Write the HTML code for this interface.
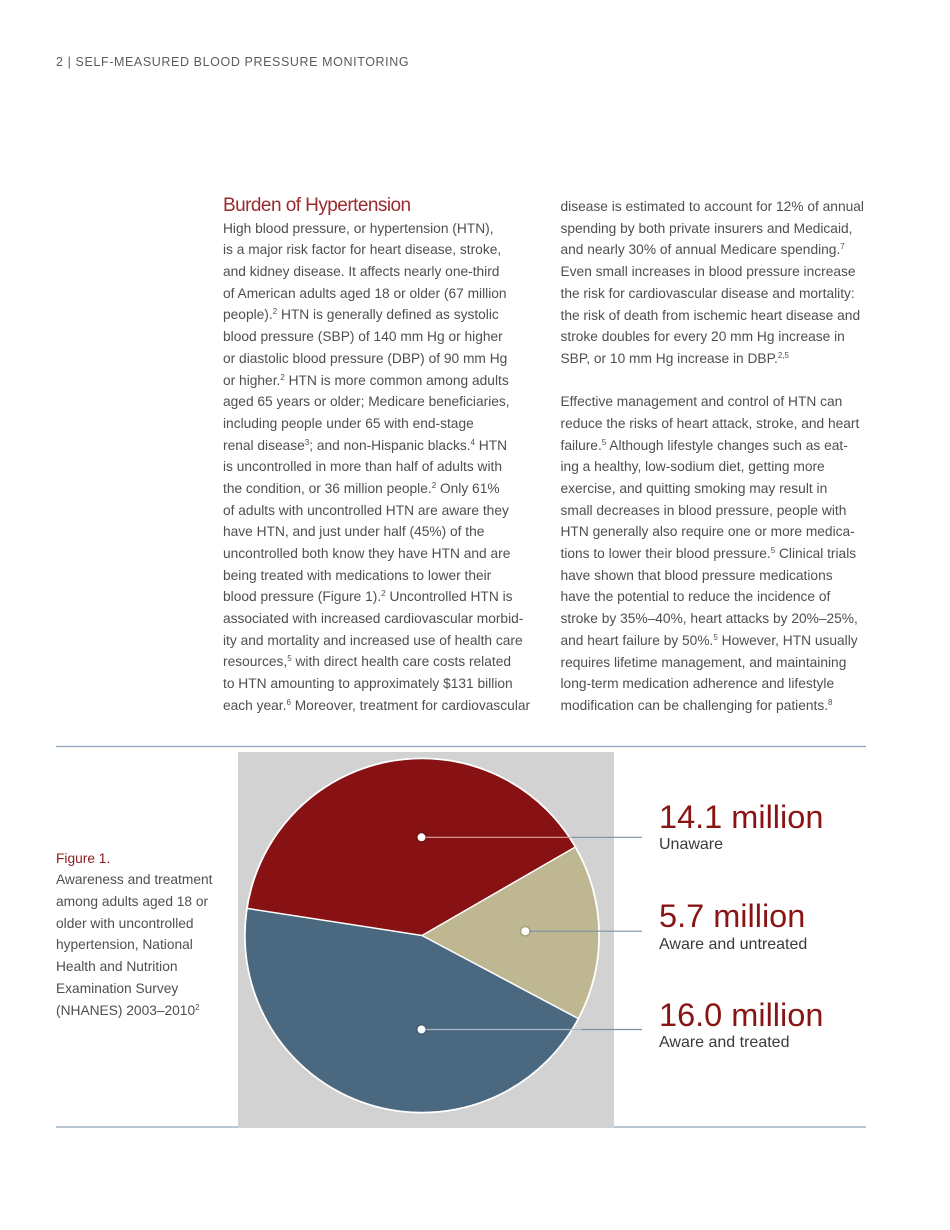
<!DOCTYPE html>
<html>
<head>
<meta charset="utf-8">
<style>
html,body{margin:0;padding:0;background:#fff;}
body{width:950px;height:1230px;position:relative;overflow:hidden;font-family:"Liberation Sans",sans-serif;}
.abs{position:absolute;white-space:nowrap;}
.hdr{left:56px;top:55px;font-size:12.5px;line-height:15px;letter-spacing:0.6px;color:#5c5c5c;}
.h2{left:223px;top:196.5px;font-size:19px;line-height:18px;letter-spacing:-0.55px;color:#9b2b2e;}
.body{font-size:13.75px;line-height:21.68px;color:#4f4f4f;}
sup{font-size:8px;line-height:0;vertical-align:5px;}
.big{font-size:32.5px;line-height:32.5px;color:#8a1414;left:659px;}
.sub{font-size:16px;line-height:16px;color:#3a3a3a;left:659px;}
.fig{color:#8b1a1a;}
</style>
</head>
<body>
<svg class="abs" style="left:0;top:0" width="950" height="1230" viewBox="0 0 950 1230">
  <line x1="56" y1="746.5" x2="866" y2="746.5" stroke="#8fa4b8" stroke-width="1.2"/>
  <line x1="56" y1="1127" x2="866" y2="1127" stroke="#8fa4b8" stroke-width="1.2"/>
  <rect x="238" y="752" width="376" height="376" fill="#d2d2d2"/>
  <circle cx="422" cy="935.5" r="178" fill="#ffffff"/>
  <path d="M422 935.5 L247.1 908.4 A177 177 0 0 1 575.3 847 Z" fill="#871113"/>
  <path d="M422 935.5 L575.3 847 A177 177 0 0 1 578.3 1018.6 Z" fill="#bfb791"/>
  <path d="M422 935.5 L578.3 1018.6 A177 177 0 0 1 247.1 908.4 Z" fill="#4a6880"/>
  <line x1="422" y1="935.5" x2="247.1" y2="908.4" stroke="#fff" stroke-width="1.5"/>
  <line x1="422" y1="935.5" x2="575.3" y2="847" stroke="#fff" stroke-width="1.5"/>
  <line x1="422" y1="935.5" x2="578.3" y2="1018.6" stroke="#fff" stroke-width="1.5"/>
  <circle cx="422" cy="935.5" r="177" fill="none" stroke="#fff" stroke-width="1.5"/>
  <line x1="422" y1="837.3" x2="572" y2="837.3" stroke="#d9a3a3" stroke-width="1.2"/>
  <line x1="572" y1="837.3" x2="642" y2="837.3" stroke="#7d91a3" stroke-width="1.2"/>
  <line x1="525.3" y1="931.2" x2="642" y2="931.2" stroke="#7d91a3" stroke-width="1.2"/>
  <line x1="422" y1="1029.5" x2="582" y2="1029.5" stroke="#a9b7c4" stroke-width="1.2"/>
  <line x1="582" y1="1029.5" x2="642" y2="1029.5" stroke="#7d91a3" stroke-width="1.2"/>
  <circle cx="421.5" cy="837.3" r="5.5" fill="#000" opacity="0.12"/>
  <circle cx="525.3" cy="931.2" r="5.5" fill="#000" opacity="0.12"/>
  <circle cx="421.5" cy="1029.5" r="5.5" fill="#000" opacity="0.12"/>
  <circle cx="421.5" cy="837.3" r="4" fill="#fff"/>
  <circle cx="525.3" cy="931.2" r="4" fill="#fff"/>
  <circle cx="421.5" cy="1029.5" r="4" fill="#fff"/>
</svg>

<div class="abs hdr">2 | SELF-MEASURED BLOOD PRESSURE MONITORING</div>

<div class="abs h2">Burden of Hypertension</div>

<div class="abs body" style="left:223px;top:217.7px;">
High blood pressure, or hypertension (HTN),<br>
is a major risk factor for heart disease, stroke,<br>
and kidney disease. It affects nearly one-third<br>
of American adults aged 18 or older (67 million<br>
people).<sup>2</sup> HTN is generally defined as systolic<br>
blood pressure (SBP) of 140 mm Hg or higher<br>
or diastolic blood pressure (DBP) of 90 mm Hg<br>
or higher.<sup>2</sup> HTN is more common among adults<br>
aged 65 years or older; Medicare beneficiaries,<br>
including people under 65 with end-stage<br>
renal disease<sup>3</sup>; and non-Hispanic blacks.<sup>4</sup> HTN<br>
is uncontrolled in more than half of adults with<br>
the condition, or 36 million people.<sup>2</sup> Only 61%<br>
of adults with uncontrolled HTN are aware they<br>
have HTN, and just under half (45%) of the<br>
uncontrolled both know they have HTN and are<br>
being treated with medications to lower their<br>
blood pressure (Figure 1).<sup>2</sup> Uncontrolled HTN is<br>
associated with increased cardiovascular morbid-<br>
ity and mortality and increased use of health care<br>
resources,<sup>5</sup> with direct health care costs related<br>
to HTN amounting to approximately $131 billion<br>
each year.<sup>6</sup> Moreover, treatment for cardiovascular
</div>

<div class="abs body" style="left:560.5px;top:196.1px;">
disease is estimated to account for 12% of annual<br>
spending by both private insurers and Medicaid,<br>
and nearly 30% of annual Medicare spending.<sup>7</sup><br>
Even small increases in blood pressure increase<br>
the risk for cardiovascular disease and mortality:<br>
the risk of death from ischemic heart disease and<br>
stroke doubles for every 20 mm Hg increase in<br>
SBP, or 10 mm Hg increase in DBP.<sup>2,5</sup><br>
&nbsp;<br>
Effective management and control of HTN can<br>
reduce the risks of heart attack, stroke, and heart<br>
failure.<sup>5</sup> Although lifestyle changes such as eat-<br>
ing a healthy, low-sodium diet, getting more<br>
exercise, and quitting smoking may result in<br>
small decreases in blood pressure, people with<br>
HTN generally also require one or more medica-<br>
tions to lower their blood pressure.<sup>5</sup> Clinical trials<br>
have shown that blood pressure medications<br>
have the potential to reduce the incidence of<br>
stroke by 35%–40%, heart attacks by 20%–25%,<br>
and heart failure by 50%.<sup>5</sup> However, HTN usually<br>
requires lifetime management, and maintaining<br>
long-term medication adherence and lifestyle<br>
modification can be challenging for patients.<sup>8</sup>
</div>

<div class="abs body" style="left:56px;top:847.7px;">
<span class="fig">Figure 1.</span><br>
Awareness and treatment<br>
among adults aged 18 or<br>
older with uncontrolled<br>
hypertension, National<br>
Health and Nutrition<br>
Examination Survey<br>
(NHANES) 2003–2010<sup>2</sup>
</div>

<div class="abs big" style="top:800.8px;">14.1 million</div>
<div class="abs sub" style="top:836.5px;">Unaware</div>
<div class="abs big" style="top:899.8px;">5.7 million</div>
<div class="abs sub" style="top:936.5px;">Aware and untreated</div>
<div class="abs big" style="top:999.2px;">16.0 million</div>
<div class="abs sub" style="top:1034.8px;">Aware and treated</div>
</body>
</html>
